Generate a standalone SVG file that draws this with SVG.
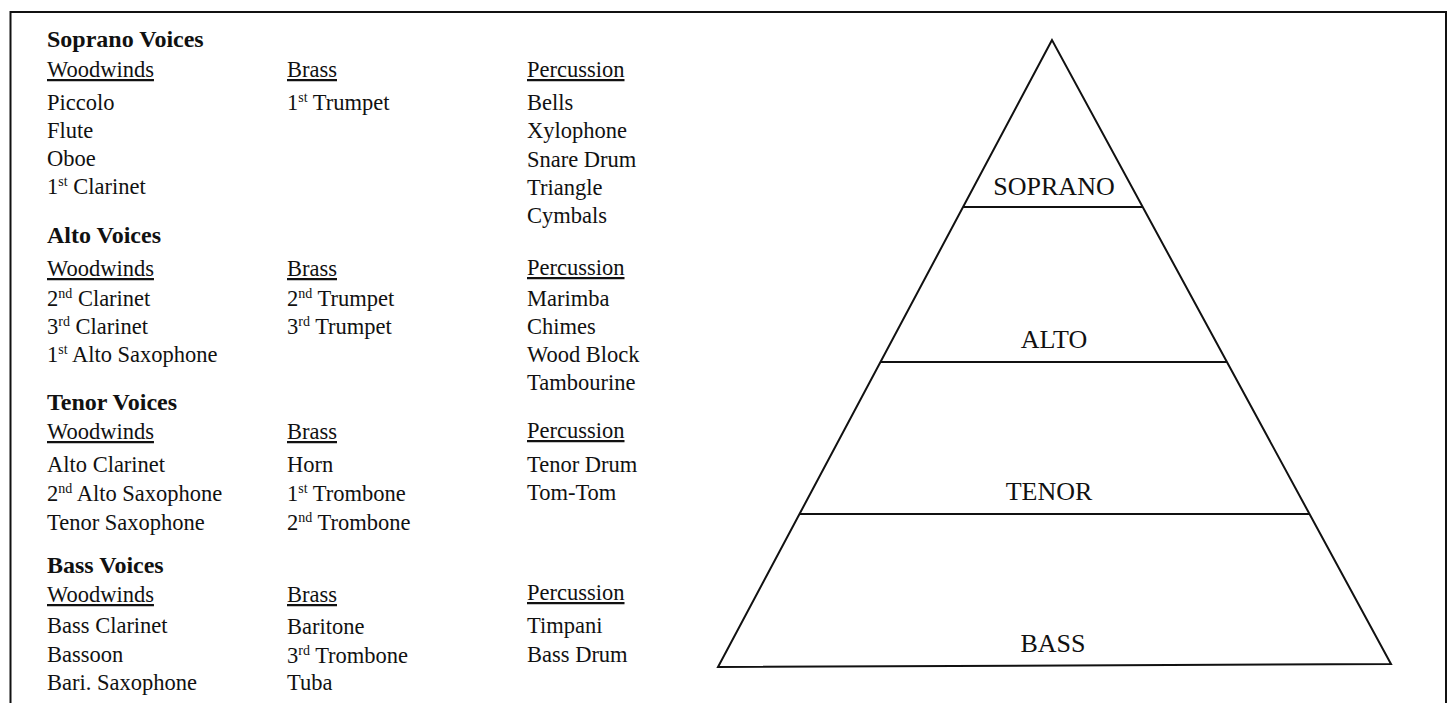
<svg xmlns="http://www.w3.org/2000/svg" width="1450" height="703" viewBox="0 0 1450 703">
  <style>
    text { font-family: "Liberation Serif", "Times New Roman", serif; fill: #111; }
    .head { font-size: 24px; font-weight: bold; }
    .sub { font-size: 22.5px; text-decoration: underline; }
    .item { font-size: 22.5px; }
    .sup { font-size: 14px; }
    .tier { font-size: 26px; text-anchor: middle; }
    .ink { fill: none; stroke: #111; stroke-width: 2; stroke-linejoin: miter; }
  </style>

  <rect width="1450" height="703" fill="#fff"/>

  <!-- outer frame (open at the bottom edge) -->
  <g id="frame">
    <path class="ink" d="M10.5,703 V12 H1446 V703"/>
  </g>

  <!-- Soprano section -->
  <g id="soprano-voices">
    <text class="head" x="47" y="47">Soprano Voices</text>
    <text class="sub" x="47" y="77">Woodwinds</text>
    <text class="sub" x="287" y="77">Brass</text>
    <text class="sub" x="527" y="77">Percussion</text>
    <text class="item" x="47" y="110">Piccolo</text>
    <text class="item" x="47" y="138">Flute</text>
    <text class="item" x="47" y="166">Oboe</text>
    <text class="item" x="47" y="194">1<tspan class="sup" dy="-8">st</tspan><tspan dy="8"> Clarinet</tspan></text>
    <text class="item" x="287" y="110">1<tspan class="sup" dy="-8">st</tspan><tspan dy="8"> Trumpet</tspan></text>
    <text class="item" x="527" y="110">Bells</text>
    <text class="item" x="527" y="138">Xylophone</text>
    <text class="item" x="527" y="167">Snare Drum</text>
    <text class="item" x="527" y="195">Triangle</text>
    <text class="item" x="527" y="223">Cymbals</text>
  </g>

  <!-- Alto section -->
  <g id="alto-voices">
    <text class="head" x="47" y="243">Alto Voices</text>
    <text class="sub" x="47" y="276">Woodwinds</text>
    <text class="sub" x="287" y="276">Brass</text>
    <text class="sub" x="527" y="275">Percussion</text>
    <text class="item" x="47" y="306">2<tspan class="sup" dy="-8">nd</tspan><tspan dy="8"> Clarinet</tspan></text>
    <text class="item" x="47" y="334">3<tspan class="sup" dy="-8">rd</tspan><tspan dy="8"> Clarinet</tspan></text>
    <text class="item" x="47" y="362">1<tspan class="sup" dy="-8">st</tspan><tspan dy="8"> Alto Saxophone</tspan></text>
    <text class="item" x="287" y="306">2<tspan class="sup" dy="-8">nd</tspan><tspan dy="8"> Trumpet</tspan></text>
    <text class="item" x="287" y="334">3<tspan class="sup" dy="-8">rd</tspan><tspan dy="8"> Trumpet</tspan></text>
    <text class="item" x="527" y="306">Marimba</text>
    <text class="item" x="527" y="334">Chimes</text>
    <text class="item" x="527" y="362">Wood Block</text>
    <text class="item" x="527" y="390">Tambourine</text>
  </g>

  <!-- Tenor section -->
  <g id="tenor-voices">
    <text class="head" x="47" y="410">Tenor Voices</text>
    <text class="sub" x="47" y="439">Woodwinds</text>
    <text class="sub" x="287" y="439">Brass</text>
    <text class="sub" x="527" y="438">Percussion</text>
    <text class="item" x="47" y="472">Alto Clarinet</text>
    <text class="item" x="47" y="501">2<tspan class="sup" dy="-8">nd</tspan><tspan dy="8"> Alto Saxophone</tspan></text>
    <text class="item" x="47" y="530">Tenor Saxophone</text>
    <text class="item" x="287" y="472">Horn</text>
    <text class="item" x="287" y="501">1<tspan class="sup" dy="-8">st</tspan><tspan dy="8"> Trombone</tspan></text>
    <text class="item" x="287" y="530">2<tspan class="sup" dy="-8">nd</tspan><tspan dy="8"> Trombone</tspan></text>
    <text class="item" x="527" y="472">Tenor Drum</text>
    <text class="item" x="527" y="500">Tom-Tom</text>
  </g>

  <!-- Bass section -->
  <g id="bass-voices">
    <text class="head" x="47" y="573">Bass Voices</text>
    <text class="sub" x="47" y="602">Woodwinds</text>
    <text class="sub" x="287" y="602">Brass</text>
    <text class="sub" x="527" y="600">Percussion</text>
    <text class="item" x="47" y="633">Bass Clarinet</text>
    <text class="item" x="47" y="662">Bassoon</text>
    <text class="item" x="47" y="690">Bari. Saxophone</text>
    <text class="item" x="287" y="634">Baritone</text>
    <text class="item" x="287" y="663">3<tspan class="sup" dy="-8">rd</tspan><tspan dy="8"> Trombone</tspan></text>
    <text class="item" x="287" y="690">Tuba</text>
    <text class="item" x="527" y="633">Timpani</text>
    <text class="item" x="527" y="662">Bass Drum</text>
  </g>

  <!-- voice pyramid -->
  <g id="pyramid">
    <path class="ink" d="M1052,40 L718,667 L1391,664 Z"/>
    <g id="tier-soprano">
      <line class="ink" x1="963" y1="207" x2="1142" y2="207"/>
      <text class="tier" x="1054" y="195">SOPRANO</text>
    </g>
    <g id="tier-alto">
      <line class="ink" x1="881" y1="362" x2="1227" y2="362"/>
      <text class="tier" x="1054" y="348">ALTO</text>
    </g>
    <g id="tier-tenor">
      <line class="ink" x1="800" y1="514" x2="1309" y2="514"/>
      <text class="tier" x="1049" y="500">TENOR</text>
    </g>
    <g id="tier-bass">
      <text class="tier" x="1053" y="652">BASS</text>
    </g>
  </g>

  <!-- no connectors in this figure -->
  <g id="connectors"/>
</svg>
